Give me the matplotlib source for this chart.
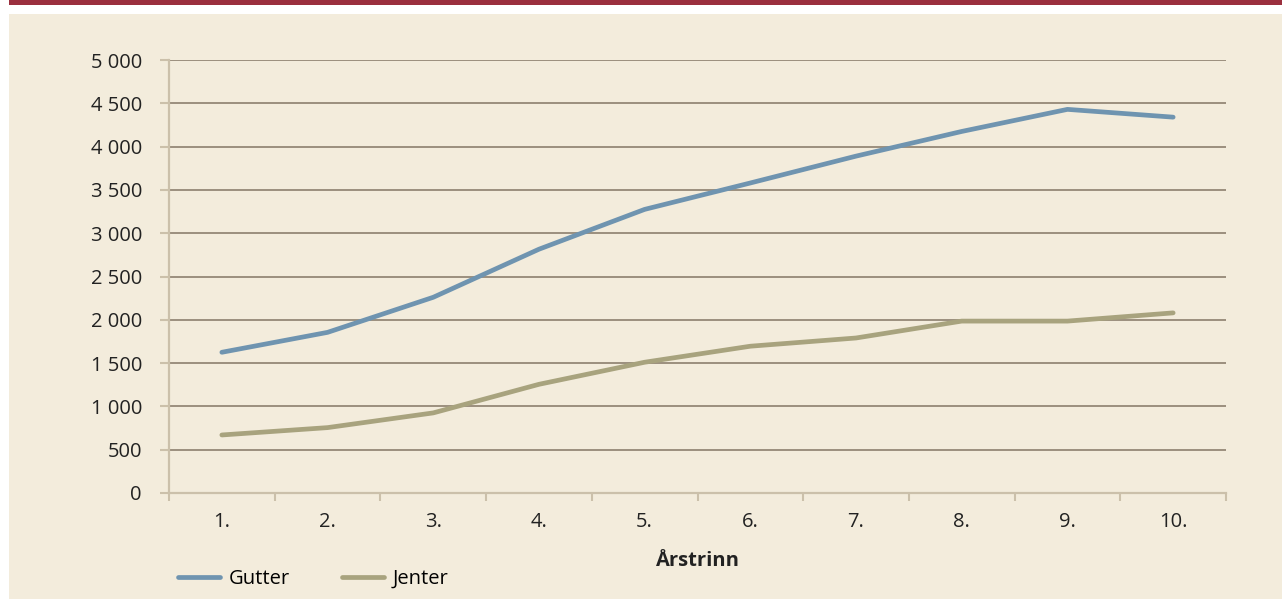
import matplotlib.pyplot as plt
from matplotlib.patches import Rectangle
from matplotlib.ticker import FuncFormatter, FixedLocator

plt.rcParams['font.family'] = ['Open Sans', 'DejaVu Sans']

# data
trinn = ['1.', '2.', '3.', '4.', '5.', '6.', '7.', '8.', '9.', '10.']
gutter = [1625, 1855, 2260, 2815, 3275, 3580, 3890, 4175, 4430, 4340]
jenter = [670, 755, 925, 1255, 1510, 1695, 1790, 1985, 1985, 2080]

bg = '#f3ecdc'
grid_col = '#8c7f6e'
axis_col = '#cbc0aa'
fs = 14.5

fig = plt.figure(figsize=(12.82, 5.99), dpi=100)
fig.patch.set_facecolor('white')
# beige panel and red top band
fig.patches.append(Rectangle((9 / 1282, 0), 1 - 9 / 1282, 1 - 14 / 599,
                             transform=fig.transFigure, facecolor=bg,
                             edgecolor='none', zorder=-2))
fig.patches.append(Rectangle((9 / 1282, 1 - 5 / 599), 1 - 9 / 1282, 5 / 599,
                             transform=fig.transFigure, facecolor='#9b2f3e',
                             edgecolor='none', zorder=-2))

ax = fig.add_axes([169 / 1282, 1 - 493 / 599, (1226 - 169) / 1282, (493 - 60) / 599])
ax.set_facecolor(bg)

x = list(range(1, len(trinn) + 1))
ax.plot(x, gutter, color='#6f94b0', lw=3.4, solid_capstyle='round', label='Gutter', zorder=3)
ax.plot(x, jenter, color='#a8a37e', lw=3.4, solid_capstyle='round', label='Jenter', zorder=3)

ax.set_xlim(0.5, len(trinn) + 0.5)
ax.set_ylim(0, 5000)
ax.set_yticks(range(0, 5001, 500))
ax.yaxis.set_major_formatter(FuncFormatter(lambda v, p: f'{int(v):,}'.replace(',', ' ')))
ax.set_xticks(x)
ax.set_xticklabels(trinn)
ax.xaxis.set_minor_locator(FixedLocator([i + 0.5 for i in range(0, len(trinn) + 1)]))

ax.tick_params(axis='x', which='major', length=0, pad=14, labelsize=fs, colors='#222222')
ax.tick_params(axis='x', which='minor', length=6, width=1.5, color=axis_col, direction='out')
ax.tick_params(axis='y', length=6.5, width=1.5, color=axis_col, pad=13, labelsize=fs,
               labelcolor='#222222')

ax.grid(axis='y', color=grid_col, lw=1.2, zorder=1)
ax.set_axisbelow(True)
for s in ['top', 'right']:
    ax.spines[s].set_visible(False)
for s in ['left', 'bottom']:
    ax.spines[s].set_color(axis_col)
    ax.spines[s].set_linewidth(1.6)
    ax.spines[s].set_zorder(2)

ax.set_xlabel('Årstrinn', fontsize=fs, fontweight='bold', labelpad=13, color='#222222')

fig.legend(loc='lower left', bbox_to_anchor=(168 / 1282, 0.0), ncol=2, frameon=False,
           fontsize=fs, handlelength=2.1, handletextpad=0.4, columnspacing=2.6,
           borderaxespad=0.1)

fig.savefig('out.png', dpi=100, facecolor='white')
